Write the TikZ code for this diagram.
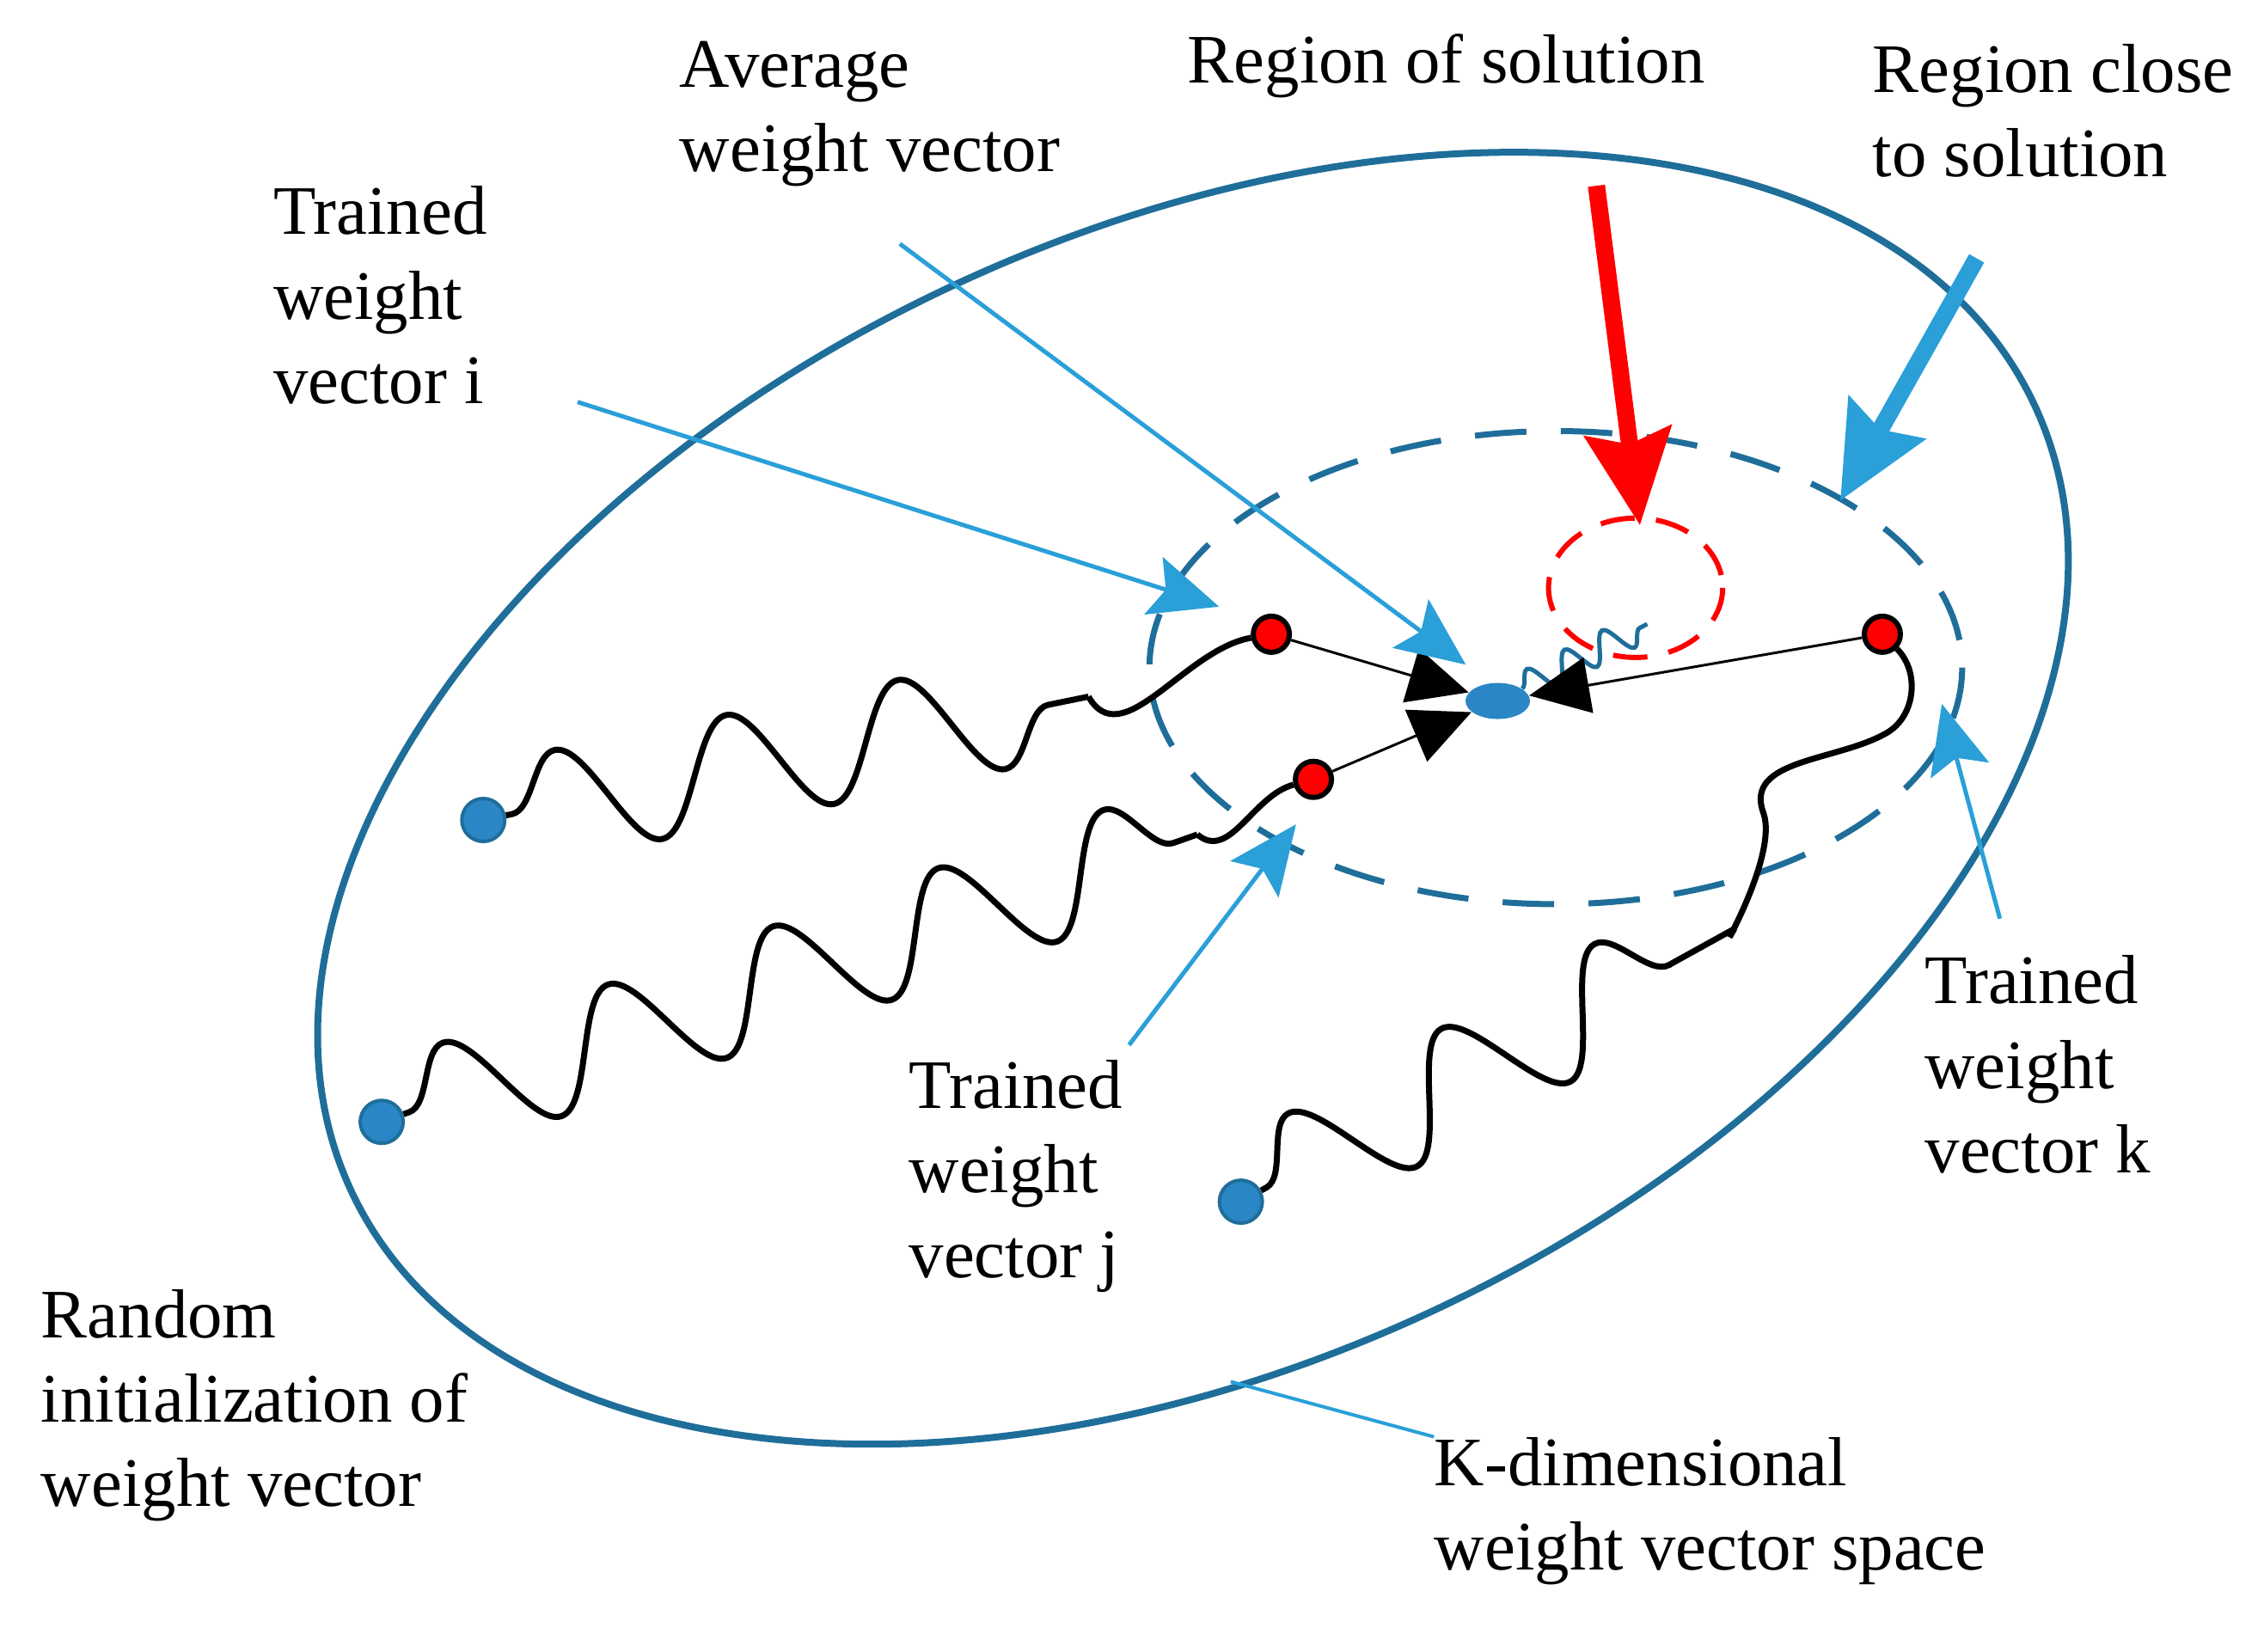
\documentclass[tikz,border=0pt]{standalone}
\usepackage{fontspec}
\setmainfont{Liberation Serif}
\usetikzlibrary{arrows.meta,calc,decorations.pathmorphing,shapes.geometric}
\definecolor{colordeep}{HTML}{1F6E9A}
\definecolor{colorsky}{HTML}{2A9FD8}
\definecolor{colordot}{HTML}{2A86C4}

\begin{document}
\begin{tikzpicture}
    [x=0.016885cm, y=-0.016885cm,
     >={Stealth[scale=1.0]},  % Uniform arrow style
     label/.style={anchor=north west, align=left, inner sep=0pt, font=\fontsize{23}{28}\selectfont},
     reddot/.style={circle, fill=red, draw=black, line width=0.06cm, minimum size=0.42cm, inner sep=0pt},
     bluedot/.style={circle, fill=colordot, draw=colordeep, line width=0.04cm, minimum size=0.5cm, inner sep=0pt},
     walk/.style={line width=0.07cm, decorate, decoration={snake, amplitude=18pt, segment length=58pt, pre length=2pt, post length=2pt}},
     pointer/.style={draw=colorsky, line width=0.05cm, -{Stealth[length=0.8cm, width=0.7cm, inset=0.15cm]}},
     avgarrow/.style={line width=0.03cm, -{Triangle[length=0.7cm, width=0.65cm]}},
    ]
\useasboundingbox (0,0) rectangle (1560,1138);

% spaces
\draw[colordeep, line width=0.08cm] (822,550) ellipse [x radius=640, y radius=390, rotate=25];
\draw[colordeep, line width=0.07cm, dash pattern=on 0.6cm off 0.4cm] (1072,460) ellipse [x radius=280, y radius=163];
\draw[red, line width=0.06cm, dash pattern=on 0.4cm off 0.25cm] (1127,405) ellipse [x radius=60, y radius=48];

% weight vectors
\node[bluedot] (init_i) at (333,565) {};
\node[bluedot] (init_j) at (263,773) {};
\node[bluedot] (init_k) at (855,828) {};
\node[reddot] (trained_i) at (876,437) {};
\node[reddot] (trained_j) at (905,537) {};
\node[reddot] (trained_k) at (1297,437) {};
\node[ellipse, fill=colordot, minimum width=0.75cm, minimum height=0.42cm, inner sep=0pt] (avg) at (1032,483) {};

% random walks
\coordinate (bend_i) at (750,480);
\coordinate (bend_j) at (825,575);
\coordinate (bend_k) at (1195,640);
\draw[walk] (init_i) -- (bend_i);
\draw[line width=0.07cm] (bend_i) to[out=-60,in=190] (trained_i);
\draw[walk] (init_j) -- (bend_j);
\draw[line width=0.07cm] (bend_j) to[out=-40,in=195] (trained_j);
\draw[walk] (init_k) -- (bend_k);
\draw[line width=0.07cm] (bend_k) to[out=-120,in=-70] (1215,560) to[out=110,in=-150] (1300,505) to[out=30,in=-45] (trained_k);
\draw[colordeep, line width=0.05cm, decorate, decoration={snake, amplitude=5pt, segment length=14pt}] (avg) -- (1135,430);

% averaging
\draw[avgarrow] (trained_i) -- (avg);
\draw[avgarrow] (trained_j) -- (avg);
\draw[avgarrow] (trained_k) -- (avg);

% labels
\node[label] (lab_avg) at (468,28) {Average\\weight vector};
\node[label] (lab_sol) at (818,23) {Region of solution};
\node[label] (lab_close) at (1290,30) {Region close\\to solution};
\node[label] (lab_i) at (188,128) {Trained\\weight\\vector i};
\node[label] (lab_j) at (626,730) {Trained\\weight\\vector j};
\node[label] (lab_k) at (1326,658) {Trained\\weight\\vector k};
\node[label] (lab_rand) at (28,888) {Random\\initialization of\\weight vector};
\node[label] (lab_space) at (988,990) {K-dimensional\\weight vector space};

% pointers
\coordinate (tip_i) at (840,418);
\coordinate (tip_avg) at (1010,458);
\coordinate (tip_j) at (893,568);
\coordinate (tip_k) at (1338,485);
\coordinate (tip_close) at (1268,345);
\coordinate (tip_sol) at (1130,362);
\coordinate (edge) at (848,952);
\draw[pointer] (398,277) -- (tip_i);
\draw[pointer] (620,168) -- (tip_avg);
\draw[pointer] (778,720) -- (tip_j);
\draw[pointer] (1378,633) -- (tip_k);
\draw[colorsky, line width=0.2cm, -{Stealth[length=1.1cm, width=1cm, inset=0.15cm]}] (1362,178) -- (tip_close);
\draw[red, line width=0.2cm, -{Stealth[length=1.1cm, width=1cm, inset=0.15cm]}] (1100,128) -- (tip_sol);
\draw[colorsky, line width=0.04cm] (edge) -- (lab_space.north west);

\end{tikzpicture}
\end{document}
